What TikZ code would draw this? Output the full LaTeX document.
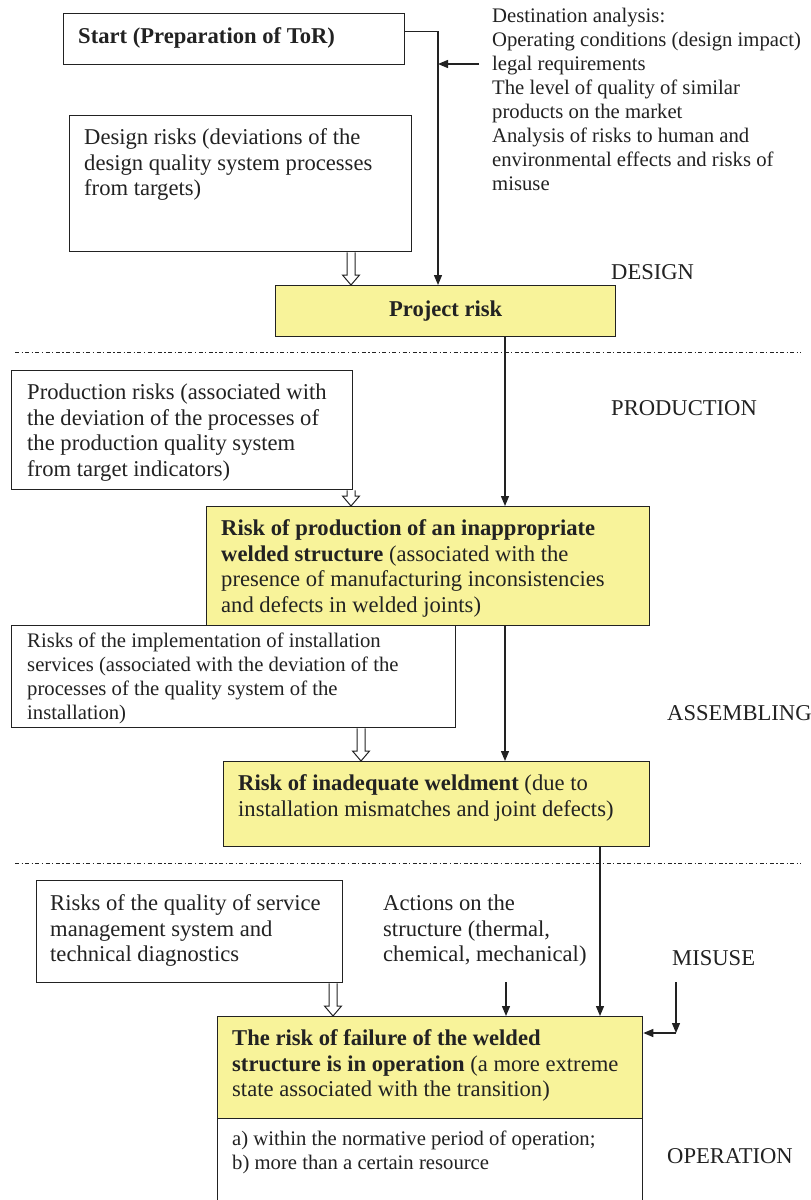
\documentclass[tikz,border=0pt]{standalone}
\usepackage{fontspec}
\setmainfont{Liberation Serif}
\usetikzlibrary{arrows.meta,calc}
\definecolor{yel}{HTML}{F8F39A}
\definecolor{ink}{HTML}{222222}
\newcommand\harrow[2]{\draw[harr] let \p1=(#1), \p2=(#1 |- #2.north) in
  (\x1-4pt,\y1) -- (\x1-4pt,\y2+10pt) -- (\x1-8.5pt,\y2+10pt) -- (\x2,\y2)
  -- (\x1+8.5pt,\y2+10pt) -- (\x1+4pt,\y2+10pt) -- (\x1+4pt,\y1);}
\begin{document}
\begin{tikzpicture}[x=1pt,y=-1pt,
  box/.style={draw=ink, line width=1.3pt, inner sep=0pt, anchor=north west, rectangle},
  ybox/.style={box, fill=yel},
  big/.style={font=\fontsize{22.6}{25.8}\selectfont, text=ink, inner sep=0pt, anchor=north west, align=left},
  small/.style={font=\fontsize{20.7}{24}\selectfont, text=ink, inner sep=0pt, anchor=north west, align=left},
  lab/.style={font=\fontsize{22.6}{25.8}\selectfont, text=ink, inner sep=0pt, anchor=west},
  arr/.style={draw=ink, line width=1.3pt, -{Triangle[length=10pt,width=8pt]}},
  harr/.style={draw=ink, line width=1pt, fill=white},
  sep/.style={draw=ink, line width=1pt, dash pattern=on 4pt off 2.5pt on 1.2pt off 2.5pt}]
\clip (0,0) rectangle (811,1200);
\fill[white] (0,0) rectangle (811,1200);

% separators
\draw[sep] (15,352) -- (801,352);
\draw[sep] (15,863) -- (801,863);

% boxes
\node[box, minimum width=341pt, minimum height=51pt] (start) at (63,13) {};
\node[box, minimum width=342pt, minimum height=136pt] (design) at (69,115) {};
\node[ybox, minimum width=340pt, minimum height=51pt, font=\fontsize{22.6}{25.8}\selectfont\bfseries, text=ink] (proj) at (275,285) {Project risk};
\node[box, minimum width=341pt, minimum height=119pt] (prodrisk) at (11,370) {};
\node[box, minimum width=444pt, minimum height=102pt] (install) at (11,625) {};
\node[ybox, minimum width=443pt, minimum height=119pt] (prod) at (206,506) {};
\node[ybox, minimum width=426pt, minimum height=85pt] (weld) at (223,761) {};
\node[box, minimum width=306pt, minimum height=102pt] (service) at (36,880) {};
\node[ybox, minimum width=425pt, minimum height=102pt] (fail) at (217,1016) {};
\node[box, minimum width=425pt, minimum height=110pt] (lower) at (217,1118) {};

% texts
\node[big] (tstart) at (78,25) {\strut\textbf{Start (Preparation of ToR)}};
\node[small] (dest) at (492,5.5) {\strut Destination analysis:\\Operating conditions (design impact)\\legal requirements\\The level of quality of similar\\products on the market\\Analysis of risks to human and\\environmental effects and risks of\\misuse};
\node[big] (tdesign) at (84,126) {\strut Design risks (deviations of the\\design quality system processes\\from targets)};
\node[big] (tprodrisk) at (27,381) {\strut Production risks (associated with\\the deviation of the processes of\\the production quality system\\from target indicators)};
\node[big] (tprod) at (221,517) {\strut\textbf{Risk of production of an inappropriate}\\\textbf{welded structure} (associated with the\\presence of manufacturing inconsistencies\\and defects in welded joints)};
\node[small] (tinstall) at (27,630.5) {\strut Risks of the implementation of installation\\services (associated with the deviation of the\\processes of the quality system of the\\installation)};
\node[big] (tweld) at (238,772) {\strut\textbf{Risk of inadequate weldment} (due to\\installation mismatches and joint defects)};
\node[big] (tservice) at (50,892) {\strut Risks of the quality of service\\management system and\\technical diagnostics};
\node[big] (actions) at (383,892) {\strut Actions on the\\structure (thermal,\\chemical, mechanical)};
\node[big] (tfail) at (232,1027) {\strut\textbf{The risk of failure of the welded}\\\textbf{structure is in operation} (a more extreme\\state associated with the transition)};
\node[small] (tlower) at (232,1128.5) {\strut a) within the normative period of operation;\\b) more than a certain resource};

% stage labels
\node[lab] (ldesign) at (611,272) {DESIGN};
\node[lab] (lprod) at (611,408) {PRODUCTION};
\node[lab] (lassem) at (667,713) {ASSEMBLING};
\node[lab] (lmisuse) at (672,958) {MISUSE};
\node[lab] (loper) at (667,1156) {OPERATION};

% connectors
\coordinate (t1) at ($(proj.north west)+(163,0)$);
\draw[arr] ([yshift=8pt]start.east) -| (t1);
\coordinate (dsrc) at (479,64);
\draw[arr] (dsrc) -- (dsrc -| t1);
\coordinate (p1) at ($(proj.south west)+(230,0)$);
\draw[arr] (p1) -- (p1 |- prod.north);
\coordinate (p2) at ($(prod.south west)+(299,0)$);
\draw[arr] (p2) -- (p2 |- weld.north);
\coordinate (p3) at ($(weld.south west)+(377,0)$);
\draw[arr] (p3) -- (p3 |- fail.north);
\coordinate (p4) at ($(fail.north west)+(289,-34)$);
\draw[arr] (p4) -- (p4 |- fail.north);
\coordinate (m0) at (676,982);
\coordinate (m1) at (676,1033);
\draw[arr] (m0) -- (m1);
\draw[arr] (m1) -- (m1 -| fail.east);

% hollow arrows
\coordinate (h1) at ($(design.south west)+(282,0)$);
\harrow{h1}{proj}
\coordinate (h2) at ($(prodrisk.south west)+(340,0)$);
\harrow{h2}{prod}
\coordinate (h3) at ($(install.south west)+(350,0)$);
\harrow{h3}{weld}
\coordinate (h4) at ($(service.south west)+(297,0)$);
\harrow{h4}{fail}
\end{tikzpicture}
\end{document}
